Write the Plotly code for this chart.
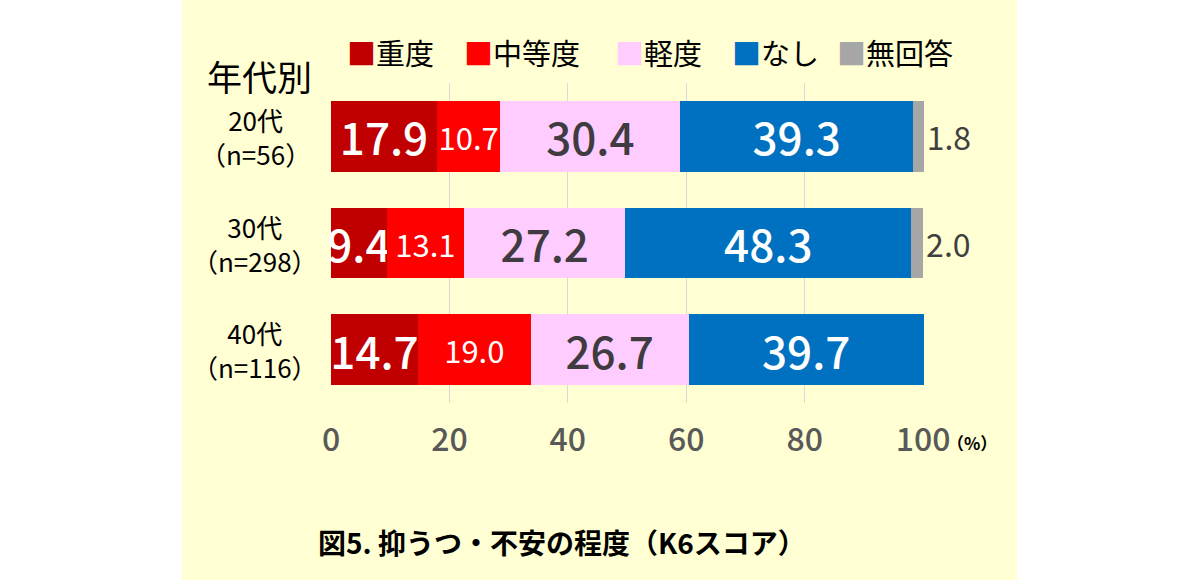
import plotly.graph_objects as go

# ---- data ----
groups = ["20代", "30代", "40代"]
group_n = ["（n=56）", "（n=298）", "（n=116）"]
series = ["重度", "中等度", "軽度", "なし", "無回答"]
severe = [17.9, 9.4, 14.7]
moderate = [10.7, 13.1, 19.0]
mild = [30.4, 27.2, 26.7]
none_ = [39.3, 48.3, 39.7]
no_answer = [1.8, 2.0, 0.0]
x_ticks = [0, 20, 40, 60, 80, 100]

values = [severe, moderate, mild, none_, no_answer]
colors = ["#C00000", "#FF0000", "#FFCCFF", "#0070C0", "#A6A6A6"]
txtcolors = ["white", "white", "#403B40", "white", "#404040"]
txtsizes = [44, 31, 44, 44, 32]
weights = [500, 400, 500, 500, 400]
positions = ["inside", "inside", "inside", "inside", "outside"]

W, H = 1200, 580
L, R, T, B = 331, 276, 83, 177
PW, PH = W - L - R, H - T - B
FONT = "Noto Sans CJK JP"


def px(x):
    return (x - L) / PW


def py(y):
    return (H - B - y) / PH


fig = go.Figure()
for name, vals, c, tc, ts, wt, pos in zip(series, values, colors, txtcolors, txtsizes, weights, positions):
    fig.add_trace(go.Bar(
        y=groups, x=vals, name=name, orientation="h",
        marker=dict(color=c, line=dict(width=0)),
        text=[f"{v:.1f}" if v > 0 else "" for v in vals],
        textposition=pos, insidetextanchor="middle", textangle=0,
        textfont=dict(color=tc, size=ts, family=FONT, weight=wt),
        constraintext="none", cliponaxis=False,
        hoverinfo="skip", showlegend=False,
    ))

annotations = []
# legend
leg_x = [345, 462, 613, 730, 835]
for name, c, lx in zip(series, colors, leg_x):
    annotations.append(dict(
        xref="paper", yref="paper", x=px(lx), y=py(52), xanchor="left", yanchor="middle",
        text=f"<span style='color:{c}'>■</span>{name}", showarrow=False,
        font=dict(size=29, color="#000000", family=FONT),
    ))
# category labels
for g, n in zip(groups, group_n):
    annotations.append(dict(
        xref="paper", yref="y", x=px(255), y=g, xanchor="center", yanchor="middle",
        text=f"{g}<br>{n}", showarrow=False, align="center",
        font=dict(size=26, color="#000000", family=FONT),
    ))
annotations.append(dict(
    xref="paper", yref="paper", x=px(259), y=py(76), xanchor="center", yanchor="middle",
    text="年代別", showarrow=False, font=dict(size=35, color="#000000", family=FONT),
))
annotations.append(dict(
    xref="paper", yref="paper", x=px(972), y=py(442), xanchor="center", yanchor="middle",
    text="<b>（%）</b>", showarrow=False, font=dict(size=17, color="#000000", family=FONT),
))
annotations.append(dict(
    xref="paper", yref="paper", x=px(562), y=py(542), xanchor="center", yanchor="middle",
    text="<b>図5. 抑うつ・不安の程度（K6スコア）</b>", showarrow=False,
    font=dict(size=28, color="#000000", family=FONT),
))

fig.update_layout(
    width=W, height=H, margin=dict(l=L, r=R, t=T, b=B),
    paper_bgcolor="white", plot_bgcolor="rgba(0,0,0,0)",
    barmode="stack", bargap=0.34,
    annotations=annotations,
    shapes=[dict(type="rect", xref="paper", yref="paper", layer="below",
                 x0=px(182), x1=px(1017), y0=py(580), y1=py(0),
                 fillcolor="#FFFFD3", line=dict(width=0))],
    xaxis=dict(range=[0, 100.15], tickvals=x_ticks,
               ticktext=[str(t) for t in x_ticks],
               showgrid=True, gridcolor="#D9D9D9", gridwidth=1, zeroline=False,
               showline=False, ticks="", ticklabelstandoff=15,
               tickfont=dict(size=32, color="#595959", family=FONT, weight=500)),
    yaxis=dict(autorange="reversed", showticklabels=False, showgrid=False,
               zeroline=False, showline=False, ticks=""),
    font=dict(family=FONT),
)

fig.write_html("out.html")
